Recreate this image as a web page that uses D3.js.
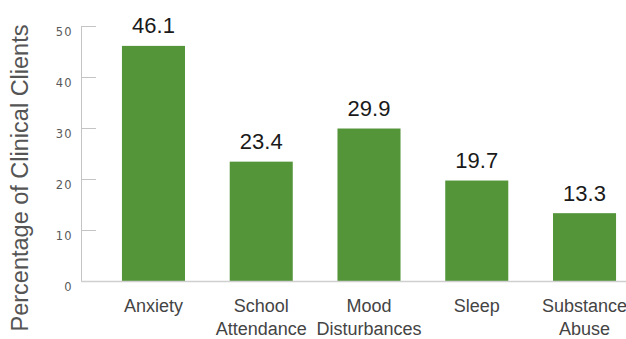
<!DOCTYPE html>
<html>
<head>
<meta charset="utf-8">
<script src="https://cdn.jsdelivr.net/npm/d3@7"></script>
<style>
  html, body { margin: 0; padding: 0; background: #fff; }
  svg { display: block; }
</style>
</head>
<body>
<svg id="chart" width="626" height="339"></svg>
<script>
// Presenting concerns among clinical clients (percent)
const categories = [["Anxiety"], ["School", "Attendance"], ["Mood", "Disturbances"], ["Sleep"], ["Substance", "Abuse"]];
const values = [46.1, 23.4, 29.9, 19.7, 13.3];
const yTicks = [0, 10, 20, 30, 40, 50];
const yTitle = "Percentage of Clinical Clients";

const svg = d3.select("#chart");
const keys = categories.map(c => c.join(" "));

const x = d3.scaleBand()
  .domain(keys)
  .range([81, 657])
  .paddingInner(0.415)
  .paddingOuter(0.38);

const y = d3.scaleLinear()
  .domain([0, 50])
  .range([281, 26]);

// Y axis: light spine with short inward ticks
const yAxis = svg.append("g");
yAxis.append("line")
  .attr("x1", 81.5).attr("x2", 81.5)
  .attr("y1", y(50)).attr("y2", y(0))
  .attr("stroke", "#c4c4c4").attr("stroke-width", 1);
yAxis.selectAll("line.tick")
  .data(yTicks)
  .join("line")
  .attr("class", "tick")
  .attr("x1", 81).attr("x2", 96)
  .attr("y1", d => Math.round(y(d)) + 0.5).attr("y2", d => Math.round(y(d)) + 0.5)
  .attr("stroke", "#c4c4c4").attr("stroke-width", 1);
yAxis.selectAll("text")
  .data(yTicks)
  .join("text")
  .attr("x", 72.5)
  .attr("y", d => y(d) + 10)
  .attr("text-anchor", "end")
  .attr("font-family", "'DejaVu Sans', sans-serif")
  .attr("font-size", 11.5)
  .attr("letter-spacing", 1)
  .attr("fill", "#5a5a5a")
  .text(d => d);

// Bars
svg.append("g").selectAll("rect")
  .data(values)
  .join("rect")
  .attr("x", (d, i) => x(keys[i]))
  .attr("width", x.bandwidth())
  .attr("y", d => y(d))
  .attr("height", d => y(0) - y(d))
  .attr("fill", "#54953a");

// Baseline
svg.append("line")
  .attr("x1", 81).attr("x2", 626)
  .attr("y1", y(0) + 0.5).attr("y2", y(0) + 0.5)
  .attr("stroke", "#cfcfcf").attr("stroke-width", 1.5);

// Value labels
svg.append("g").selectAll("text")
  .data(values)
  .join("text")
  .attr("x", (d, i) => x(keys[i]) + x.bandwidth() / 2)
  .attr("y", d => y(d) - 12.5)
  .attr("text-anchor", "middle")
  .attr("font-family", "'Liberation Sans', Arial, sans-serif")
  .attr("font-size", 22)
  .attr("fill", "#1a1a1a")
  .text(d => d.toFixed(1));

// Category labels (one or two lines)
const cat = svg.append("g").selectAll("text")
  .data(categories)
  .join("text")
  .attr("text-anchor", "middle")
  .attr("font-family", "'Liberation Sans', Arial, sans-serif")
  .attr("font-size", 18)
  .attr("fill", "#444");
cat.selectAll("tspan")
  .data((d, i) => d.map(line => ({ line, key: keys[i] })))
  .join("tspan")
  .attr("x", d => x(d.key) + x.bandwidth() / 2)
  .attr("y", (d, j) => 311.5 + j * 23.5)
  .text(d => d.line);

// Y axis title
svg.append("text")
  .attr("transform", `translate(28,${178}) rotate(-90)`)
  .attr("text-anchor", "middle")
  .attr("font-family", "'Liberation Sans', Arial, sans-serif")
  .attr("font-size", 23.5)
  .attr("fill", "#555")
  .text(yTitle);
</script>
</body>
</html>
